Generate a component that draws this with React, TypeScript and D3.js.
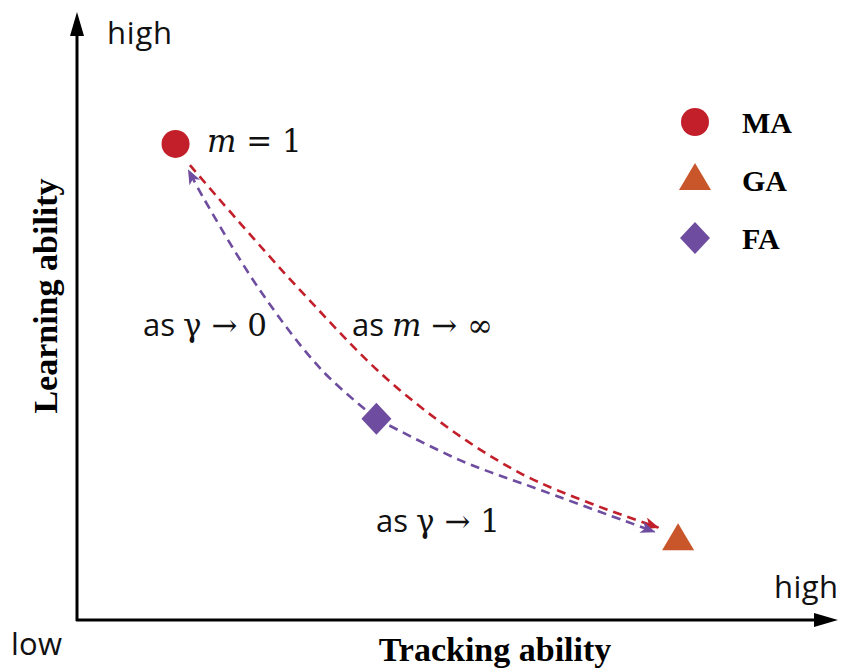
import React from "react";
import * as d3 from "d3";

// ---- data (abstract units 0..10 on both axes) ----
const pointNames = ["MA", "GA", "FA"];
const pointX = [1.3, 7.93, 3.95];
const pointY = [7.83, 1.31, 3.31];
const pointColors = ["#c21f2b", "#c8562a", "#6e4c9f"];

// red dashed: MA -> GA  (as m -> inf)
const redX = [1.49, 2.94, 4.26, 5.84, 7.67];
const redY = [7.48, 5.43, 3.78, 2.42, 1.52];
// purple dashed: FA -> MA (as gamma -> 0)
const purpleUpX = [3.95, 3.23, 2.41, 1.66, 1.47];
const purpleUpY = [3.31, 4.11, 5.43, 6.96, 7.4];
// purple dashed: FA -> GA (as gamma -> 1)
const purpleDownX = [3.95, 5.05, 6.11, 7.62];
const purpleDownY = [3.31, 2.63, 2.14, 1.45];

const W = 844;
const H = 670;

export default function App() {
  const x = d3.scaleLinear().domain([0, 10]).range([77, 835]);
  const y = d3.scaleLinear().domain([0, 10]).range([620, 12]);
  const line = d3
    .line<[number, number]>()
    .x((d) => x(d[0]))
    .y((d) => y(d[1]))
    .curve(d3.curveCatmullRom.alpha(0.5));
  const zip = (a: number[], b: number[]) => a.map((v, i) => [v, b[i]] as [number, number]);

  const sym = (i: number, cx: number, cy: number) => {
    const c = pointColors[i];
    if (i === 0) return <circle cx={cx} cy={cy} r={14} fill={c} />;
    if (i === 1)
      return (
        <path
          d={`M${cx},${cy - 17} L${cx + 16},${cy + 10} L${cx - 16},${cy + 10} Z`}
          fill={c}
        />
      );
    return (
      <path
        d={`M${cx},${cy - 16} L${cx + 15},${cy} L${cx},${cy + 16} L${cx - 15},${cy} Z`}
        fill={c}
      />
    );
  };

  const sans = "'Open Sans', 'Noto Sans', sans-serif";
  const serif = "'Liberation Serif', 'Times New Roman', serif";
  const math = "'DejaVu Serif', 'Liberation Serif', serif";

  return (
    <svg
      width={W}
      height={H}
      style={{ position: "absolute", left: 0, top: 0, background: "#fff" }}
    >
      <defs>
        {["red", "purple"].map((k) => (
          <marker
            key={k}
            id={`arr-${k}`}
            markerUnits="userSpaceOnUse"
            markerWidth={18}
            markerHeight={14}
            refX={14}
            refY={6}
            orient="auto"
          >
            <path d="M0,0 L15,6 L0,12 L4,6 Z" fill={k === "red" ? pointColors[0] : pointColors[2]} />
          </marker>
        ))}
      </defs>

      {/* axes */}
      <line x1={77} y1={621} x2={77} y2={30} stroke="#000" strokeWidth={3} />
      <path d="M77,12 L84,36 L70,36 Z" fill="#000" />
      <line x1={76} y1={620} x2={818} y2={620} stroke="#000" strokeWidth={3} />
      <path d="M838,620 L814,613 L814,627 Z" fill="#000" />

      {/* curves */}
      <path
        d={line(zip(redX, redY)) || ""}
        fill="none"
        stroke={pointColors[0]}
        strokeWidth={2.6}
        strokeDasharray="9 6"
        markerEnd="url(#arr-red)"
      />
      <path
        d={line(zip(purpleUpX, purpleUpY)) || ""}
        fill="none"
        stroke={pointColors[2]}
        strokeWidth={2.6}
        strokeDasharray="9 6"
        markerEnd="url(#arr-purple)"
      />
      <path
        d={line(zip(purpleDownX, purpleDownY)) || ""}
        fill="none"
        stroke={pointColors[2]}
        strokeWidth={2.6}
        strokeDasharray="9 6"
        markerEnd="url(#arr-purple)"
      />

      {/* points */}
      {pointNames.map((n, i) => (
        <g key={n}>{sym(i, x(pointX[i]), y(pointY[i]))}</g>
      ))}

      {/* legend */}
      {pointNames.map((n, i) => (
        <g key={"lg" + n}>
          {sym(i, 695, 122 + i * 58)}
          <text
            x={742}
            y={133 + i * 58}
            fontFamily={serif}
            fontWeight="bold"
            fontSize={30}
            fill="#000"
          >
            {n}
          </text>
        </g>
      ))}

      {/* axis words */}
      <text x={107} y={44} fontFamily={sans} fontSize={31} fill="#111" textLength={65}>
        high
      </text>
      <text x={774} y={598} fontFamily={sans} fontSize={31} fill="#111" textLength={64}>
        high
      </text>
      <text x={11} y={655} fontFamily={sans} fontSize={31} fill="#111" textLength={51}>
        low
      </text>
      <text
        x={495}
        y={661}
        textAnchor="middle"
        fontFamily={serif}
        fontWeight="bold"
        fontSize={34}
        fill="#000"
      >
        Tracking ability
      </text>
      <text
        transform="translate(57,296) rotate(-90)"
        textAnchor="middle"
        fontFamily={serif}
        fontWeight="bold"
        fontSize={34}
        fill="#000"
      >
        Learning ability
      </text>

      {/* annotations */}
      <text x={207} y={152} fontFamily={math} fontSize={31} fill="#111">
        <tspan fontStyle="italic">m</tspan>
        <tspan> = 1</tspan>
      </text>
      <text x={143} y={336} fontSize={31} fill="#111">
        <tspan fontFamily={sans}>as </tspan>
        <tspan fontFamily={math}>γ → 0</tspan>
      </text>
      <text x={352} y={336} fontSize={31} fill="#111">
        <tspan fontFamily={sans}>as </tspan>
        <tspan fontFamily={math} fontStyle="italic">m</tspan>
        <tspan fontFamily={math}> → ∞</tspan>
      </text>
      <text x={376} y={532} fontSize={31} fill="#111">
        <tspan fontFamily={sans}>as </tspan>
        <tspan fontFamily={math}>γ → 1</tspan>
      </text>
    </svg>
  );
}
